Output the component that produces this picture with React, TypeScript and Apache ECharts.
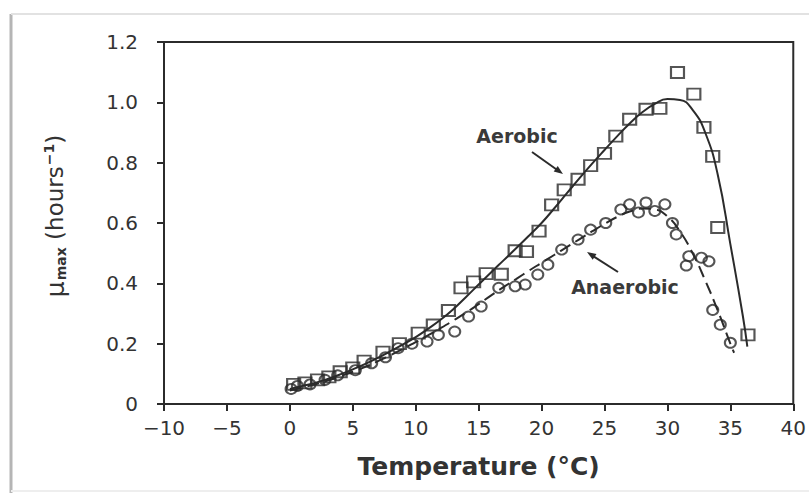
import React, { useEffect, useRef } from "react";
import * as echarts from "echarts";

const xTicks = [-10, -5, 0, 5, 10, 15, 20, 25, 30, 35, 40];
const yTicks = [0, 0.2, 0.4, 0.6, 0.8, 1.0, 1.2];

const aerobicObs: [number, number][] = [
  [0.3, 0.065], [1.2, 0.07], [2.2, 0.08], [3.1, 0.09], [4.0, 0.107], [5.0, 0.12],
  [5.9, 0.142], [7.4, 0.172], [8.7, 0.2], [10.2, 0.235], [11.4, 0.262], [12.6, 0.31],
  [13.6, 0.385], [14.6, 0.405], [15.6, 0.432], [16.8, 0.43], [17.9, 0.508], [18.8, 0.505],
  [19.8, 0.573], [20.8, 0.66], [21.8, 0.71], [22.9, 0.745], [23.9, 0.79], [25.0, 0.831],
  [25.9, 0.888], [27.0, 0.944], [28.3, 0.977], [29.4, 0.98], [30.8, 1.099], [32.1, 1.027],
  [32.9, 0.917], [33.6, 0.821], [34.0, 0.585], [36.4, 0.229],
];

const anaerobicObs: [number, number][] = [
  [0.1, 0.05], [0.6, 0.06], [1.6, 0.065], [2.8, 0.08], [3.8, 0.095], [5.2, 0.112],
  [6.5, 0.135], [7.6, 0.155], [8.6, 0.185], [9.7, 0.2], [10.9, 0.207], [11.8, 0.229],
  [13.1, 0.24], [14.2, 0.29], [15.2, 0.323], [16.6, 0.385], [17.9, 0.39], [18.7, 0.396],
  [19.7, 0.429], [20.5, 0.462], [21.6, 0.512], [22.9, 0.545], [23.9, 0.578], [25.1, 0.6],
  [26.3, 0.645], [27.0, 0.662], [27.7, 0.635], [28.3, 0.668], [29.0, 0.64], [29.8, 0.662],
  [30.4, 0.6], [30.7, 0.562], [31.5, 0.459], [31.7, 0.49], [32.7, 0.485], [33.3, 0.473],
  [33.6, 0.312], [34.2, 0.263], [35.0, 0.203],
];

const aerobicFit: [number, number][] = [
  [0, 0.05], [1, 0.06], [2, 0.07], [3, 0.083], [4, 0.098], [5, 0.115], [6, 0.133],
  [7, 0.153], [8, 0.175], [9, 0.198], [10, 0.222], [11, 0.25], [12, 0.28], [13, 0.315],
  [14, 0.355], [15, 0.396], [16, 0.437], [17, 0.477], [18, 0.517], [19, 0.558], [20, 0.6],
  [21, 0.648], [22, 0.698], [23, 0.748], [24, 0.796], [25, 0.842], [26, 0.887], [27, 0.93],
  [28, 0.967], [29, 0.995], [30, 1.011], [31, 1.008], [32, 0.975], [33, 0.9], [34, 0.76],
  [35, 0.53], [36, 0.29], [36.35, 0.19],
];

const anaerobicFit: [number, number][] = [
  [0, 0.045], [1, 0.055], [2, 0.065], [3, 0.078], [4, 0.092], [5, 0.107], [6, 0.123],
  [7, 0.142], [8, 0.162], [9, 0.183], [10, 0.205], [11, 0.228], [12, 0.252], [13, 0.277],
  [14, 0.303], [15, 0.331], [16, 0.36], [17, 0.388], [18, 0.415], [19, 0.442], [20, 0.468],
  [21, 0.494], [22, 0.52], [23, 0.546], [24, 0.572], [25, 0.597], [26, 0.62], [27, 0.638],
  [28, 0.648], [29, 0.645], [30, 0.622], [31, 0.572], [32, 0.5], [33, 0.41], [34, 0.31],
  [35, 0.2], [35.3, 0.17],
];

const aerobicLabel = "Aerobic";
const anaerobicLabel = "Anaerobic";
const xTitle = "Temperature (°C)";

const INK = "#2b2b2b";
const FONT = "DejaVu Sans";

export default function App() {
  const ref = useRef<HTMLDivElement>(null);
  useEffect(() => {
    if (!ref.current) return;
    const chart = echarts.init(ref.current, null, { renderer: "svg" });
    chart.setOption({
      animation: false,
      backgroundColor: "#fff",
      grid: {
        left: 164, right: 14, top: 42, bottom: 89,
        show: true, borderColor: INK, borderWidth: 2, backgroundColor: "transparent",
      },
      xAxis: {
        type: "value", min: xTicks[0], max: xTicks[xTicks.length - 1], interval: 5,
        axisLine: { show: true, onZero: false, lineStyle: { color: INK, width: 2 } },
        axisTick: { show: true, length: 7, lineStyle: { color: INK, width: 2 } },
        splitLine: { show: false },
        axisLabel: {
          color: "#333", fontSize: 20, fontFamily: FONT, margin: 14,
          formatter: (v: number) => (v < 0 ? "\u2212" + Math.abs(v) : String(v)),
        },
        name: xTitle, nameLocation: "middle", nameGap: 50,
        nameTextStyle: { color: "#333", fontSize: 25, fontFamily: FONT, fontWeight: "bold" },
      },
      yAxis: {
        type: "value", min: yTicks[0], max: yTicks[yTicks.length - 1], interval: 0.2,
        axisLine: { show: true, onZero: false, lineStyle: { color: INK, width: 2 } },
        axisTick: { show: true, length: 7, lineStyle: { color: INK, width: 2 } },
        splitLine: { show: false },
        axisLabel: {
          color: "#333", fontSize: 20, fontFamily: FONT, margin: 26,
          formatter: (v: number) => (v === 0 ? "0" : v.toFixed(1)),
        },
      },
      series: [
        {
          type: "line", data: aerobicFit, showSymbol: false, smooth: 0.5,
          lineStyle: { color: INK, width: 2 }, z: 3,
        },
        {
          type: "line", data: anaerobicFit, showSymbol: false, smooth: 0.5,
          lineStyle: { color: INK, width: 2, type: [12, 6] }, z: 3,
        },
        {
          type: "scatter", data: aerobicObs, symbol: "rect", symbolSize: [13, 11],
          itemStyle: { color: "rgba(255,255,255,0)", borderColor: INK, borderWidth: 2 }, z: 4,
        },
        {
          type: "scatter", data: anaerobicObs, symbol: "circle", symbolSize: [11, 10],
          itemStyle: { color: "rgba(255,255,255,0)", borderColor: INK, borderWidth: 2 }, z: 4,
        },
      ],
      graphic: [
        { type: "line", shape: { x1: 11, y1: 14, x2: 11, y2: 493 }, style: { stroke: "#b5b5b5", lineWidth: 3 }, silent: true },
        { type: "line", shape: { x1: 11, y1: 14, x2: 809, y2: 14 }, style: { stroke: "#e2e2e2", lineWidth: 2 }, silent: true },
        { type: "line", shape: { x1: 11, y1: 491, x2: 809, y2: 491 }, style: { stroke: "#eeeeee", lineWidth: 2 }, silent: true },
        {
          type: "text", x: 517, y: 136,
          style: { text: aerobicLabel, fill: "#3a3a3a", font: `bold 19px "${FONT}"`, align: "center", verticalAlign: "middle" },
        },
        {
          type: "text", x: 625, y: 287,
          style: { text: anaerobicLabel, fill: "#3a3a3a", font: `bold 19px "${FONT}"`, align: "center", verticalAlign: "middle" },
        },
        { type: "line", shape: { x1: 532, y1: 152, x2: 558, y2: 170.5 }, style: { stroke: INK, lineWidth: 2 } },
        { type: "polygon", shape: { points: [[563, 174], [553.7, 171.6], [557.7, 165.9]] }, style: { fill: INK } },
        { type: "line", shape: { x1: 618, y1: 272, x2: 592, y2: 255.3 }, style: { stroke: INK, lineWidth: 2 } },
        { type: "polygon", shape: { points: [[587, 252], [596.5, 254], [592.7, 259.8]] }, style: { fill: INK } },
        {
          type: "text", x: 55, y: 216, rotation: Math.PI / 2,
          style: {
            text: "{mu|\u03bc}{sub|max}{n| (hours}{sup|\u22121}{n|)}",
            align: "center", verticalAlign: "middle",
            rich: {
              mu: { fontSize: 25, fontFamily: FONT, fill: "#333" },
              sub: { fontSize: 14, fontFamily: FONT, fontWeight: "bold", fill: "#333", padding: [12, 0, 0, 1] },
              n: { fontSize: 23, fontFamily: FONT, fill: "#333" },
              sup: { fontSize: 14, fontFamily: FONT, fontWeight: "bold", fill: "#333", padding: [0, 0, 12, 1] },
            },
          },
        },
      ],
    });
    return () => chart.dispose();
  }, []);
  return <div ref={ref} style={{ width: 809, height: 493, position: "absolute", left: 0, top: 0 }} />;
}
